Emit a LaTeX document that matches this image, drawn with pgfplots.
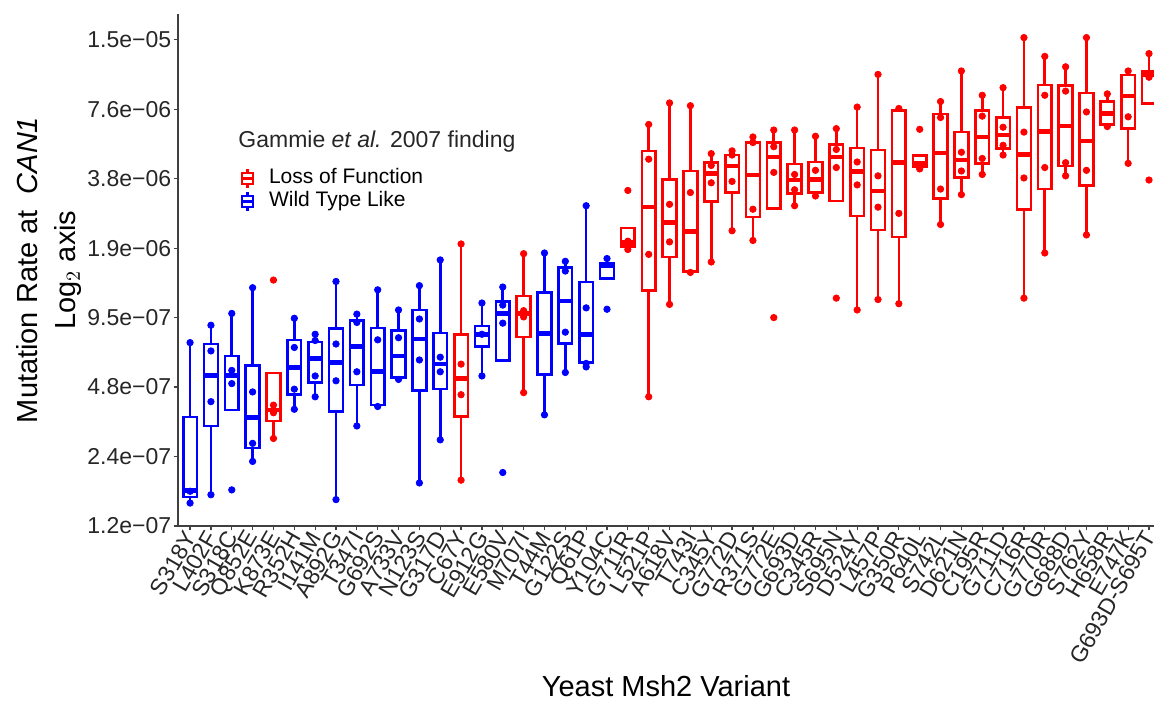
\documentclass[border=0pt]{standalone}
\usepackage{fontspec}
\setmainfont{Liberation Sans}
\usepackage{pgfplots}
\pgfplotsset{compat=1.18}
% #1 colour, #2 position, #3 box left, #4 box right,
% #5 lower whisker, #6 lower quartile, #7 median, #8 upper quartile, #9 upper whisker
\newcommand{\bx}[9]{%
  \addplot[#1, line width=1.3pt, line cap=rect, forget plot] coordinates {(#3,#6) (#4,#6) (#4,#8) (#3,#8) (#3,#6)};
  \addplot[#1, line width=1.3pt, forget plot] coordinates {(#2,#8) (#2,#9)};
  \addplot[#1, line width=1.3pt, forget plot] coordinates {(#2,#6) (#2,#5)};
  \addplot[#1, line width=2.3pt, forget plot] coordinates {(#3,#7) (#4,#7)};
}
\begin{document}
\begin{tikzpicture}
\begin{axis}[
  scale only axis, width=488pt, height=256pt,
  xmin=-0.58, xmax=46.24, ymin=-23, ymax=-15.63,
  axis x line*=bottom, axis y line*=left,
  axis line style={-, black!75, line width=0.6pt},
  tick style={black!75, line width=0.6pt},
  tick align=outside, major tick length=2.2pt,
  xtick={0,...,46},
  xticklabels={S318Y,L402F,S318C,Q852E,K873E,R352H,I141M,A892G,T347I,G692S,A733V,N123S,G317D,C67Y,E912G,E580V,M707I,T44M,G122S,Q61P,Y104C,G711R,L521P,A618V,T743I,C345Y,G772D,R371S,G772E,G693D,C345R,S695N,D524Y,L457P,G350R,P640L,S742L,D621N,C195R,G711D,C716R,G770R,G688D,S762Y,H658R,E747K,G693D-S695T},
  ytick={-23,-22,-21,-20,-19,-18,-17,-16},
  yticklabels={1.2e−07,2.4e−07,4.8e−07,9.5e−07,1.9e−06,3.8e−06,7.6e−06,1.5e−05},
  ticklabel style={font=\fontsize{11.5}{13}\selectfont, text=black!85},
  xticklabel style={rotate=60, anchor=east, inner sep=1pt, yshift=-1pt},
  yticklabel style={inner sep=1pt},
  xlabel={Yeast Msh2 Variant},
  every axis x label/.style={at={(axis description cs:0.5,0)}, anchor=base, yshift=-85pt, font=\fontsize{14.5}{17}\selectfont},
  ylabel={Mutation Rate at\ \ \textit{CAN1}\\Log$_2$ axis},
  every axis y label/.style={at={(axis description cs:0,0.5)}, xshift=-64.5pt, rotate=90, anchor=center, align=center, font=\fontsize{14.5}{19}\selectfont},
  legend style={draw=none, fill=none, at={(axis description cs:0.064,0.702)}, anchor=north west,
    inner sep=0pt, row sep=0pt, column sep=7pt,
    font=\fontsize{10.5}{11}\selectfont,
    nodes={inner sep=0.5pt, text height=8pt, text depth=2.5pt}},
  legend cell align=left,
]
% legend
\addlegendimage{red, line width=1.1pt, legend image code/.code={
  \draw (0pt,-2.8pt) rectangle (5.5pt,2.8pt);
  \draw (0pt,0pt) -- (5.5pt,0pt);
  \draw (2.75pt,2.8pt) -- (2.75pt,4.6pt);
  \draw (2.75pt,-2.8pt) -- (2.75pt,-4.6pt);}}
\addlegendentry{Loss of Function}
\addlegendimage{blue, line width=1.1pt, legend image code/.code={
  \draw (0pt,-2.8pt) rectangle (5.5pt,2.8pt);
  \draw (0pt,0pt) -- (5.5pt,0pt);
  \draw (2.75pt,2.8pt) -- (2.75pt,4.6pt);
  \draw (2.75pt,-2.8pt) -- (2.75pt,-4.6pt);}}
\addlegendentry{Wild Type Like}
% boxes
\bx{blue}{0}{-0.33}{0.33}{-22.67}{-22.58}{-22.49}{-21.43}{-20.36}
\bx{blue}{1}{0.67}{1.33}{-22.55}{-21.56}{-20.83}{-20.38}{-20.11}
\bx{blue}{2}{1.67}{2.33}{-21.33}{-21.33}{-20.83}{-20.55}{-19.94}
\bx{blue}{3}{2.67}{3.33}{-22.07}{-21.88}{-21.44}{-20.69}{-19.57}
\bx{red}{4}{3.67}{4.33}{-21.74}{-21.49}{-21.33}{-20.80}{-20.80}
\bx{blue}{5}{4.67}{5.33}{-21.32}{-21.11}{-20.72}{-20.32}{-20.01}
\bx{blue}{6}{5.67}{6.33}{-21.14}{-20.93}{-20.59}{-20.35}{-20.24}
\bx{blue}{7}{6.67}{7.33}{-22.62}{-21.35}{-20.65}{-20.16}{-19.48}
\bx{blue}{8}{7.67}{8.33}{-21.56}{-20.97}{-20.42}{-20.04}{-19.95}
\bx{blue}{9}{8.67}{9.33}{-21.28}{-21.26}{-20.78}{-20.15}{-19.60}
\bx{blue}{10}{9.67}{10.33}{-20.89}{-20.86}{-20.55}{-20.19}{-19.89}
\bx{blue}{11}{10.67}{11.33}{-22.38}{-21.05}{-20.31}{-19.89}{-19.54}
\bx{blue}{12}{11.67}{12.33}{-21.76}{-21.03}{-20.67}{-20.22}{-19.17}
\bx{red}{13}{12.67}{13.33}{-22.34}{-21.42}{-20.88}{-20.24}{-18.94}
\bx{blue}{14}{13.67}{14.33}{-20.84}{-20.42}{-20.24}{-20.12}{-19.79}
\bx{blue}{15}{14.67}{15.33}{-20.62}{-20.62}{-19.94}{-19.77}{-19.56}
\bx{red}{16}{15.67}{16.33}{-21.08}{-20.28}{-19.94}{-19.69}{-19.08}
\bx{blue}{17}{16.67}{17.33}{-21.40}{-20.82}{-20.23}{-19.64}{-19.07}
\bx{blue}{18}{17.67}{18.33}{-20.79}{-20.37}{-19.76}{-19.28}{-19.19}
\bx{blue}{19}{18.67}{19.33}{-20.71}{-20.65}{-20.24}{-19.49}{-18.39}
\bx{blue}{20}{19.67}{20.33}{-19.44}{-19.44}{-19.25}{-19.22}{-19.15}
\bx{red}{21}{20.67}{21.33}{-19.02}{-18.98}{-18.92}{-18.71}{-18.71}
\bx{red}{22}{21.67}{22.33}{-21.14}{-19.61}{-18.41}{-17.60}{-17.22}
\bx{red}{23}{22.67}{23.33}{-19.81}{-19.13}{-18.63}{-18.01}{-16.91}
\bx{red}{24}{23.67}{24.33}{-19.35}{-19.34}{-18.76}{-17.89}{-16.95}
\bx{red}{25}{24.67}{25.33}{-19.20}{-18.33}{-17.93}{-17.77}{-17.64}
\bx{red}{26}{25.67}{26.33}{-18.75}{-18.20}{-17.82}{-17.66}{-17.60}
\bx{red}{27}{26.67}{27.33}{-18.89}{-18.55}{-17.95}{-17.48}{-17.40}
\bx{red}{28}{27.67}{28.33}{-18.43}{-18.43}{-17.69}{-17.48}{-17.30}
\bx{red}{29}{28.67}{29.33}{-18.39}{-18.21}{-18.02}{-17.79}{-17.30}
\bx{red}{30}{29.67}{30.33}{-18.25}{-18.20}{-18.01}{-17.76}{-17.39}
\bx{red}{31}{30.67}{31.33}{-18.32}{-18.32}{-17.69}{-17.51}{-17.28}
\bx{red}{32}{31.67}{32.33}{-19.89}{-18.54}{-17.90}{-17.56}{-16.97}
\bx{red}{33}{32.67}{33.33}{-19.74}{-18.74}{-18.18}{-17.59}{-16.50}
\bx{red}{34}{33.67}{34.33}{-19.80}{-18.84}{-17.77}{-17.02}{-16.99}
\bx{red}{35}{34.67}{35.33}{-17.86}{-17.83}{-17.78}{-17.67}{-17.67}
\bx{red}{36}{35.67}{36.33}{-18.66}{-18.29}{-17.63}{-17.07}{-16.89}
\bx{red}{37}{36.67}{37.33}{-18.23}{-17.98}{-17.73}{-17.33}{-16.45}
\bx{red}{38}{37.67}{38.33}{-17.94}{-17.78}{-17.40}{-17.02}{-16.80}
\bx{red}{39}{38.67}{39.33}{-17.66}{-17.57}{-17.37}{-17.12}{-16.69}
\bx{red}{40}{39.67}{40.33}{-19.72}{-18.44}{-17.65}{-16.98}{-15.97}
\bx{red}{41}{40.67}{41.33}{-19.07}{-18.15}{-17.32}{-16.65}{-16.24}
\bx{red}{42}{41.67}{42.33}{-17.96}{-17.82}{-17.24}{-16.66}{-16.39}
\bx{red}{43}{42.67}{43.33}{-18.81}{-18.10}{-17.46}{-16.77}{-15.97}
\bx{red}{44}{43.67}{44.33}{-17.25}{-17.22}{-17.06}{-16.89}{-16.78}
\bx{red}{45}{44.67}{45.33}{-17.78}{-17.28}{-16.81}{-16.51}{-16.45}
\bx{red}{46}{45.67}{46.33}{-16.92}{-16.92}{-16.51}{-16.46}{-16.20}
% data points
\addplot[only marks, mark=*, mark size=1.6pt, blue, forget plot] coordinates {
(0,-20.36) (0,-22.50) (0,-22.67)
(1,-20.11) (1,-20.48) (1,-21.21) (1,-22.55)
(2,-19.94) (2,-20.76) (2,-20.95) (2,-22.48)
(3,-19.57) (3,-21.07) (3,-21.81) (3,-22.07)
(5,-20.01) (5,-20.43) (5,-21.03) (5,-21.32)
(6,-20.24) (6,-20.33) (6,-20.84) (6,-21.14)
(7,-19.48) (7,-20.38) (7,-20.91) (7,-22.62)
(8,-19.95) (8,-20.07) (8,-20.78) (8,-21.56)
(9,-19.60) (9,-20.32) (9,-21.28)
(10,-19.89) (10,-20.29) (10,-20.89)
(11,-19.54) (11,-20.02) (11,-20.61) (11,-22.38)
(12,-19.17) (12,-20.57) (12,-20.78) (12,-21.76)
(14,-19.79) (14,-20.24) (14,-20.84)
(15,-19.56) (15,-19.82) (15,-20.08) (15,-22.23)
(17,-19.07) (17,-21.40)
(18,-19.19) (18,-19.33) (18,-20.21) (18,-20.79)
(19,-18.39) (19,-19.86) (19,-20.66) (19,-20.71)
(20,-19.15) (20,-19.88)
};
\addplot[only marks, mark=*, mark size=1.6pt, red, forget plot] coordinates {
(4,-19.46) (4,-21.26) (4,-21.37) (4,-21.74)
(13,-18.94) (13,-20.67) (13,-21.11) (13,-22.34)
(16,-19.08) (16,-19.90) (16,-19.99) (16,-21.08)
(21,-18.17) (21,-18.90) (21,-19.02)
(22,-17.22) (22,-17.72) (22,-19.09) (22,-21.14)
(23,-16.91) (23,-18.37) (23,-18.91) (23,-19.81)
(24,-16.95) (24,-18.20) (24,-19.35)
(25,-17.64) (25,-17.81) (25,-18.06) (25,-19.20)
(26,-17.60) (26,-17.66) (26,-18.04) (26,-18.75)
(27,-17.40) (27,-17.48) (27,-18.44) (27,-18.89)
(28,-17.30) (28,-17.54) (28,-17.91) (28,-20.00)
(29,-17.30) (29,-17.94) (29,-18.16) (29,-18.39)
(30,-17.39) (30,-17.88) (30,-18.25)
(31,-17.28) (31,-17.58) (31,-17.84) (31,-19.72)
(32,-16.97) (32,-17.76) (32,-18.09) (32,-19.89)
(33,-16.50) (33,-17.96) (33,-18.41) (33,-19.74)
(34,-16.99) (34,-18.50) (34,-19.80)
(35,-17.29) (35,-17.86)
(36,-16.89) (36,-17.12) (36,-18.15) (36,-18.66)
(37,-16.45) (37,-17.62) (37,-17.89) (37,-18.23)
(38,-16.80) (38,-17.10) (38,-17.71) (38,-17.94)
(39,-16.69) (39,-17.26) (39,-17.52) (39,-17.66)
(40,-15.97) (40,-17.33) (40,-17.99) (40,-19.72)
(41,-16.24) (41,-16.80) (41,-17.84) (41,-19.07)
(42,-16.39) (42,-16.74) (42,-17.77) (42,-17.96)
(43,-15.97) (43,-17.04) (43,-17.88) (43,-18.81)
(44,-16.78) (44,-17.25)
(45,-16.45) (45,-17.11) (45,-17.78)
(46,-16.20) (46,-16.54) (46,-18.02)
};
\node[anchor=base west, inner sep=0pt, font=\fontsize{11.5}{13}\selectfont, text=black!85]
  at (axis description cs:0.0615,0.740) {Gammie \textit{et al.} 2007 finding};
\end{axis}
\pgfresetboundingbox
\path (-89pt,-88pt) rectangle (488pt,263pt);
\end{tikzpicture}
\end{document}
